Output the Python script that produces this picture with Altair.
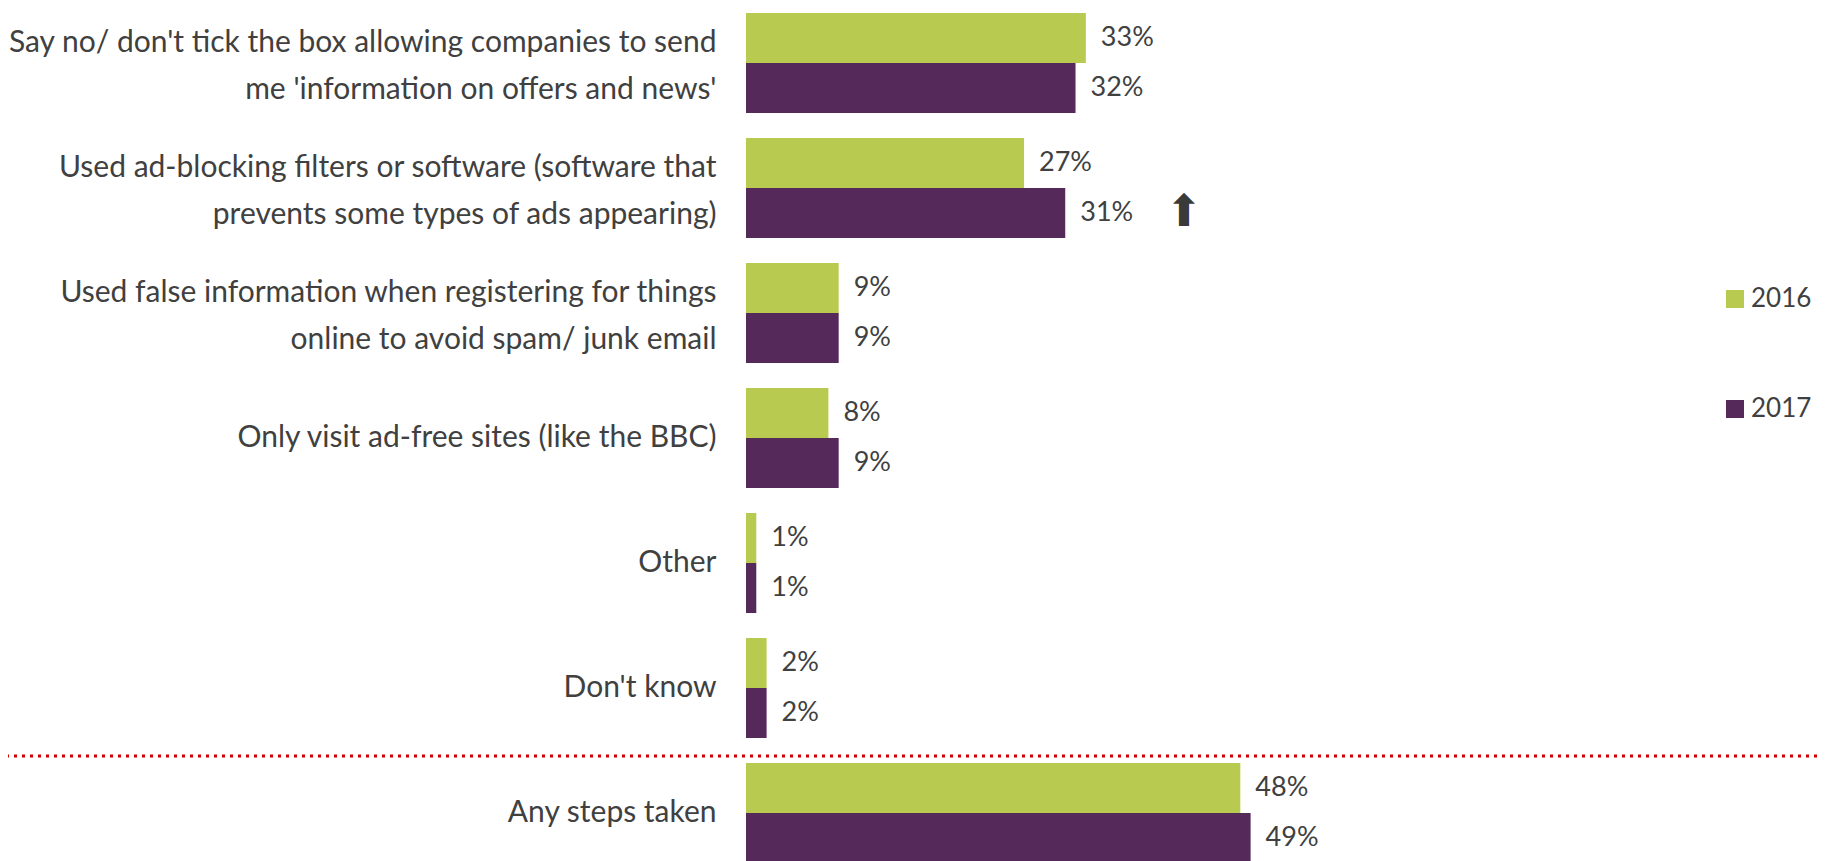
import altair as alt
import pandas as pd

categories = [
    "Say no/ don't tick the box allowing companies to send|me 'information on offers and news'",
    "Used ad-blocking filters or software (software that|prevents some types of ads appearing)",
    "Used false information when registering for things|online to avoid spam/ junk email",
    "Only visit ad-free sites (like the BBC)",
    "Other",
    "Don't know",
    "Any steps taken",
]
years = ["2016", "2017"]
values_2016 = [33, 27, 9, 8, 1, 2, 48]
values_2017 = [32, 31, 9, 9, 1, 2, 49]
colors = ["#B8CB50", "#552A5A"]
arrow_category = categories[1]
arrow_year = "2017"
arrow_value = 31
separator_before = "Any steps taken"

rows = []
for c, a, b in zip(categories, values_2016, values_2017):
    rows.append({"cat": c, "year": "2016", "value": a})
    rows.append({"cat": c, "year": "2017", "value": b})
df = pd.DataFrame(rows)

FONT = "Lato"
TXT = "#404040"

yscale = alt.Scale(domain=categories, paddingInner=0.2, paddingOuter=0)
xscale = alt.Scale(domain=[0, 104])
offscale = alt.Scale(paddingInner=0, paddingOuter=0)

y_enc = alt.Y("cat:N", sort=categories, scale=yscale,
              axis=alt.Axis(title=None, domain=False, ticks=False, tickSize=0,
                            labelExpr="split(datum.label, '|')",
                            labelFont=FONT, labelFontSize=30, labelColor=TXT,
                            labelPadding=30, labelLineHeight=47,
                            labelOffset={"condition": {"test": "indexof(datum.value, '|') >= 0", "value": -20}, "value": 0},
                            labelAlign="right", labelBaseline="middle",
                            labelLimit=900, grid=False))

bars = alt.Chart(df).mark_bar().encode(
    x=alt.X("value:Q", scale=xscale, axis=None),
    y=y_enc,
    yOffset=alt.YOffset("year:N", sort=years, scale=offscale),
    color=alt.Color("year:N", sort=years,
                    scale=alt.Scale(domain=years, range=colors),
                    legend=alt.Legend(title=None, orient="none", legendX=976, legendY=273,
                                      symbolType="square", symbolSize=324,
                                      symbolStrokeWidth=0, labelFont=FONT,
                                      labelFontSize=26, labelColor=TXT,
                                      rowPadding=84, labelOffset=3, padding=0)),
)

labels = alt.Chart(df).transform_calculate(
    txt="datum.value + '%'"
).mark_text(align="left", baseline="middle", dx=15, font=FONT, fontSize=27, color=TXT).encode(
    x=alt.X("value:Q", scale=xscale),
    y=alt.Y("cat:N", sort=categories, scale=yscale),
    yOffset=alt.YOffset("year:N", sort=years, scale=offscale),
    text="txt:N",
)

arrow_df = pd.DataFrame([{"cat": arrow_category, "year": arrow_year, "value": arrow_value, "sym": "⬆"}])
arrow = alt.Chart(arrow_df).mark_text(align="center", baseline="middle", dx=119,
                                      font="DejaVu Sans", fontSize=44, color="#3a3a3a").encode(
    x=alt.X("value:Q", scale=xscale),
    y=alt.Y("cat:N", sort=categories, scale=yscale),
    yOffset=alt.YOffset("year:N", sort=years, scale=offscale),
    text="sym:N",
)

sep_df = pd.DataFrame([{"cat": separator_before}])
sep = alt.Chart(sep_df).mark_rule(color="#D40000", strokeWidth=3, strokeDash=[3, 5], yOffset=-7).encode(
    y=alt.Y("cat:N", sort=categories, scale=yscale, bandPosition=0),
    x=alt.value(-740),
    x2=alt.value(1071),
)

chart = alt.layer(bars, labels, arrow, sep).properties(
    width=1071, height=850,
    autosize=alt.AutoSizeParams(type="none"),
    padding={"left": 738, "top": 5, "right": 0, "bottom": 0},
).configure_view(stroke=None)

chart.save("out.html", embed_options={"renderer": "svg", "actions": False})
